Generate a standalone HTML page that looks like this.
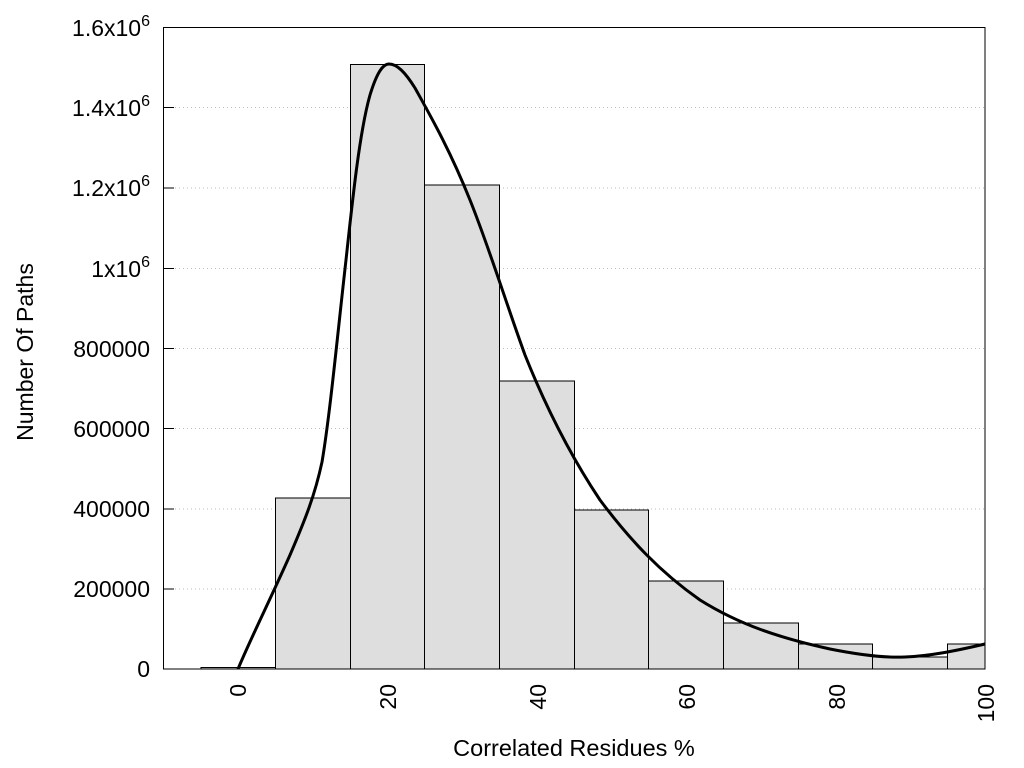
<!DOCTYPE html>
<html><head><meta charset="utf-8"><style>body{margin:0;background:#fff}svg{display:block}</style></head><body>
<svg width="1024" height="768" xmlns="http://www.w3.org/2000/svg" font-family="Liberation Sans, Arial, sans-serif">
<rect width="1024" height="768" fill="#fff"/>
<g stroke="#bbb" stroke-width="1" stroke-dasharray="1,3">
<line x1="175" y1="589" x2="985" y2="589"/><line x1="175" y1="509" x2="985" y2="509"/>
<line x1="175" y1="428.5" x2="985" y2="428.5"/><line x1="175" y1="348.5" x2="985" y2="348.5"/>
<line x1="175" y1="268.5" x2="985" y2="268.5"/><line x1="175" y1="188" x2="985" y2="188"/>
<line x1="175" y1="107.5" x2="985" y2="107.5"/>
</g>
<g fill="#dedede" stroke="#000" stroke-width="1">
<rect x="201" y="667.5" width="74.5" height="1.5"/>
<rect x="275.5" y="498" width="75" height="171"/>
<rect x="350.5" y="64.5" width="74" height="604.5"/>
<rect x="424.5" y="185" width="75" height="484"/>
<rect x="499.5" y="381" width="75" height="288"/>
<rect x="574.5" y="510" width="74" height="159"/>
<rect x="648.5" y="581" width="75" height="88"/>
<rect x="723.5" y="623" width="75" height="46"/>
<rect x="798.5" y="644" width="74" height="25"/>
<rect x="872.5" y="657" width="75" height="12"/>
<rect x="947.5" y="644" width="37.5" height="25"/>
</g>
<path d="M238,669 C250,640 270,600 290,555 C305,520 315,495 322,462 C330,415 338,330 346,260 C353,195 360,130 370,95 C377,72 383,64 389,64 C397,64 405,72 415,88 C430,115 450,150 470,200 C490,250 505,300 525,355 C545,405 570,455 600,500 C630,540 660,572 700,600 C740,625 780,638 830,649 C860,655 885,658 905,657 C930,656 955,651 985,644" fill="none" stroke="#000" stroke-width="3" stroke-linejoin="round"/>
<rect x="163.5" y="27.5" width="821.5" height="641.5" fill="none" stroke="#000" stroke-width="1"/>
<g stroke="#000" stroke-width="1">
<line x1="164" y1="589" x2="174" y2="589"/><line x1="164" y1="509" x2="174" y2="509"/>
<line x1="164" y1="428.5" x2="174" y2="428.5"/><line x1="164" y1="348.5" x2="174" y2="348.5"/>
<line x1="164" y1="268.5" x2="174" y2="268.5"/><line x1="164" y1="188" x2="174" y2="188"/>
<line x1="164" y1="107.5" x2="174" y2="107.5"/>
</g>
<g font-size="23" text-anchor="end" fill="#000">
<text x="150" y="677">0</text>
<text x="150" y="597">200000</text>
<text x="150" y="517">400000</text>
<text x="150" y="437">600000</text>
<text x="150" y="357">800000</text>
<text x="150" y="277">1x10<tspan font-size="16" dy="-10">6</tspan></text>
<text x="150" y="196">1.2x10<tspan font-size="16" dy="-10">6</tspan></text>
<text x="150" y="116">1.4x10<tspan font-size="16" dy="-10">6</tspan></text>
<text x="150" y="36">1.6x10<tspan font-size="16" dy="-10">6</tspan></text>
</g>
<g font-size="23" text-anchor="end" fill="#000">
<text transform="translate(246,684) rotate(-90)">0</text>
<text transform="translate(396,684) rotate(-90)">20</text>
<text transform="translate(546,684) rotate(-90)">40</text>
<text transform="translate(695,684) rotate(-90)">60</text>
<text transform="translate(845,684) rotate(-90)">80</text>
<text transform="translate(994,684) rotate(-90)">100</text>
</g>
<text x="574" y="756" font-size="23.5" text-anchor="middle">Correlated Residues %</text>
<text transform="translate(33,352) rotate(-90)" font-size="23" text-anchor="middle">Number Of Paths</text>
</svg>
</body></html>
